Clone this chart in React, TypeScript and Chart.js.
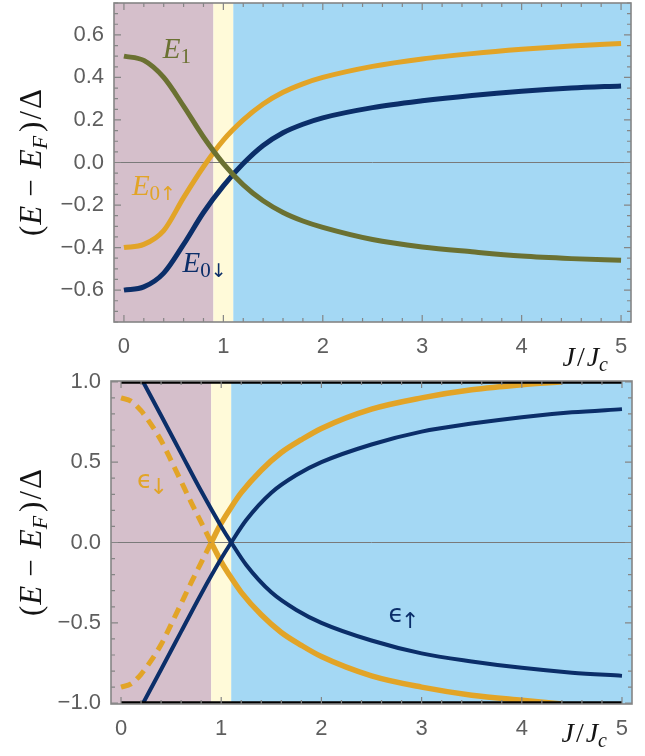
import React, { useEffect, useRef } from "react";
import { Chart, registerables } from "chart.js";

Chart.register(...registerables);

// ---------------- data (top panel) ----------------
const J_TOP = [0, 0.2, 0.4, 0.6, 0.8, 1.0, 1.2, 1.4, 1.6, 1.8, 2.0, 2.5, 3.0, 3.5, 4.0, 4.5, 5.0];
const E1 = [0.5, 0.48, 0.4, 0.265, 0.12, -0.005, -0.105, -0.18, -0.235, -0.275, -0.305, -0.362, -0.397, -0.42, -0.44, -0.452, -0.46];
const E0_UP = [-0.4, -0.385, -0.32, -0.165, -0.02, 0.105, 0.2, 0.275, 0.33, 0.37, 0.4, 0.452, 0.487, 0.512, 0.532, 0.548, 0.56];
const E0_DOWN = [-0.6, -0.585, -0.52, -0.385, -0.235, -0.11, -0.005, 0.08, 0.14, 0.18, 0.21, 0.258, 0.29, 0.315, 0.335, 0.35, 0.36];

// ---------------- data (bottom panel) ----------------
const J_NAVY = [0.22, 0.4, 0.6, 0.8, 1.0, 1.1, 1.25, 1.5, 1.75, 2.0, 2.5, 3.0, 3.5, 4.0, 4.5, 5.0];
const EPS_UP_A = [1.0, 0.79, 0.555, 0.32, 0.1, 0.0, -0.14, -0.31, -0.42, -0.5, -0.61, -0.69, -0.74, -0.78, -0.81, -0.83];
const EPS_UP_B = [-1.0, -0.79, -0.555, -0.32, -0.1, 0.0, 0.14, 0.31, 0.42, 0.5, 0.61, 0.69, 0.74, 0.78, 0.81, 0.83];
const J_GOLD = [0.9, 1.0, 1.1, 1.2, 1.4, 1.6, 1.8, 2.0, 2.5, 3.0, 3.5, 4.0, 4.4];
const EPS_DN_A = [0.0, 0.12, 0.22, 0.31, 0.45, 0.56, 0.64, 0.71, 0.83, 0.9, 0.95, 0.982, 1.0];
const EPS_DN_B = [0.0, -0.12, -0.22, -0.31, -0.45, -0.56, -0.64, -0.71, -0.83, -0.9, -0.95, -0.982, -1.005];
const J_DASH = [0, 0.1, 0.2, 0.3, 0.4, 0.5, 0.6, 0.7, 0.8, 0.9];
const EPS_DASH_A = [0.9, 0.88, 0.82, 0.735, 0.635, 0.51, 0.38, 0.25, 0.125, 0.0];
const EPS_DASH_B = [-0.9, -0.88, -0.82, -0.735, -0.635, -0.51, -0.38, -0.25, -0.125, 0.0];
const J_BOUND = [0, 5];
const BOUND_UP = [1, 1];
const BOUND_DN = [-1, -1];

// ---------------- ticks / regions ----------------
const X_TICKS = [0, 1, 2, 3, 4, 5];
const Y_TICKS_TOP = [-0.6, -0.4, -0.2, 0, 0.2, 0.4, 0.6];
const Y_TICKS_BOT = [-1, -0.5, 0, 0.5, 1];
const REGION_EDGES = [-0.1, 0.9, 1.1, 5.1];

// ---------------- style ----------------
const C_MAUVE = "#d5bfcb";
const C_YELLOW = "#fffad9";
const C_BLUE = "#a4d8f4";
const REGION_COLORS = [C_MAUVE, C_YELLOW, C_BLUE];
const C_OLIVE = "#6b7132";
const C_GOLD = "#e2a427";
const C_NAVY = "#0b2e69";
const C_FRAME = "#858585";
const C_TICKLBL = "#5e5e5e";

const SERIF = (s: number) => `${s}px "Liberation Serif"`;
const SERIF_I = (s: number) => `italic ${s}px "Liberation Serif"`;
const SANS = (s: number) => `${s}px "DejaVu Sans"`;

type Part = { t: string; font: string; dy?: number; gap?: number };

const Y_TITLE: Part[] = [
  { t: "(", font: SERIF(31) },
  { t: "E", font: SERIF_I(31), gap: 1 },
  { t: "\u2212", font: SERIF(31), gap: 9 },
  { t: "E", font: SERIF_I(31), gap: 11 },
  { t: "F", font: SERIF_I(22), dy: 6 },
  { t: ")", font: SERIF(31), gap: 4 },
  { t: "/", font: SERIF(31), gap: 2 },
  { t: "\u0394", font: SERIF(31), gap: 2 },
];
const X_TITLE: Part[] = [
  { t: "J", font: SERIF_I(28) },
  { t: "/", font: SERIF(28), gap: 2 },
  { t: "J", font: SERIF_I(28), gap: 2 },
  { t: "c", font: SERIF_I(20), dy: 5 },
];

type Lbl = { parts: Part[]; jx: number; v: number; color: string };

const TOP_LABELS: Lbl[] = [
  { parts: [{ t: "E", font: SERIF_I(29) }, { t: "1", font: SERIF(21), dy: 5 }], jx: 0.39, v: 0.491, color: C_OLIVE },
  {
    parts: [{ t: "E", font: SERIF_I(29) }, { t: "0", font: SERIF(21), dy: 5 }, { t: "\u2191", font: SANS(19), dy: 5 }],
    jx: 0.08, v: -0.153, color: C_GOLD,
  },
  {
    parts: [{ t: "E", font: SERIF_I(29) }, { t: "0", font: SERIF(21), dy: 5 }, { t: "\u2193", font: SANS(19), dy: 5 }],
    jx: 0.59, v: -0.515, color: C_NAVY,
  },
];
const BOT_LABELS: Lbl[] = [
  { parts: [{ t: "\u03f5", font: SANS(25) }, { t: "\u2193", font: SANS(22), dy: 6, gap: -3 }], jx: 0.16, v: 0.34, color: C_GOLD },
  { parts: [{ t: "\u03f5", font: SANS(25) }, { t: "\u2191", font: SANS(22), dy: 6, gap: -3 }], jx: 2.67, v: -0.495, color: C_NAVY },
];

function pts(xs: number[], ys: number[]) {
  return xs.map((x, i) => ({ x, y: ys[i] }));
}

function widthOf(ctx: CanvasRenderingContext2D, parts: Part[]) {
  let w = 0;
  for (const p of parts) {
    ctx.font = p.font;
    w += (p.gap || 0) + ctx.measureText(p.t).width;
  }
  return w;
}
function drawParts(ctx: CanvasRenderingContext2D, parts: Part[], x: number, y: number) {
  let cx = x;
  ctx.textBaseline = "alphabetic";
  ctx.textAlign = "left";
  for (const p of parts) {
    cx += p.gap || 0;
    ctx.font = p.font;
    ctx.fillText(p.t, cx, y + (p.dy || 0));
    cx += ctx.measureText(p.t).width;
  }
}

type PanelOpts = {
  height: number;
  yMin: number;
  yMax: number;
  yTicks: number[];
  yMinorStep: number;
  yMajorStep: number;
  yAxisWidth: number;
  xAxisHeight: number;
  padTop: number;
  padRight: number;
  labels: Lbl[];
  xTitleRight: number;
  xTitleBase: number;
  datasets: any[];
};

function makePlugin(o: PanelOpts) {
  return {
    id: "decor",
    beforeDatasetsDraw(chart: any) {
      const { ctx, chartArea: a, scales } = chart;
      const x = scales.x;
      const y = scales.y;
      ctx.save();
      for (let i = 0; i < REGION_EDGES.length - 1; i++) {
        const x0 = i === 0 ? a.left : x.getPixelForValue(REGION_EDGES[i]);
        const x1 = i === REGION_EDGES.length - 2 ? a.right : x.getPixelForValue(REGION_EDGES[i + 1]);
        ctx.fillStyle = REGION_COLORS[i];
        ctx.fillRect(x0, a.top, x1 - x0, a.bottom - a.top);
      }
      const y0 = y.getPixelForValue(0);
      ctx.strokeStyle = "#7a7a7a";
      ctx.lineWidth = 1;
      ctx.beginPath();
      ctx.moveTo(a.left, y0);
      ctx.lineTo(a.right, y0);
      ctx.stroke();
      ctx.restore();
    },
    afterDatasetsDraw(chart: any) {
      const { ctx, chartArea: a, scales } = chart;
      const x = scales.x;
      const y = scales.y;
      ctx.save();
      ctx.strokeStyle = C_FRAME;
      ctx.lineWidth = 1.2;
      ctx.beginPath();
      for (let k = 0; k <= 25; k++) {
        const v = k * 0.2;
        const px = x.getPixelForValue(v);
        const len = k % 5 === 0 ? 7 : 4;
        ctx.moveTo(px, a.bottom);
        ctx.lineTo(px, a.bottom - len);
        ctx.moveTo(px, a.top);
        ctx.lineTo(px, a.top + len);
      }
      const n = Math.round((o.yMax - o.yMin) / o.yMinorStep + 1e-9);
      const start = Math.ceil(o.yMin / o.yMinorStep - 1e-9) * o.yMinorStep;
      for (let k = 0; k <= n; k++) {
        const v = start + k * o.yMinorStep;
        if (v > o.yMax + 1e-9) break;
        const r = v / o.yMajorStep;
        const major = Math.abs(r - Math.round(r)) < 1e-6;
        const py = y.getPixelForValue(v);
        const len = major ? 7 : 4;
        ctx.moveTo(a.left, py);
        ctx.lineTo(a.left + len, py);
        ctx.moveTo(a.right, py);
        ctx.lineTo(a.right - len, py);
      }
      ctx.stroke();
      ctx.lineWidth = 1.6;
      ctx.strokeRect(a.left, a.top, a.right - a.left, a.bottom - a.top);
      ctx.restore();
    },
    afterDraw(chart: any) {
      const { ctx, chartArea: a, scales } = chart;
      const x = scales.x;
      const y = scales.y;
      ctx.save();
      // y title (rotated)
      ctx.fillStyle = "#141414";
      const tw = widthOf(ctx, Y_TITLE);
      ctx.translate(41, (a.top + a.bottom) / 2);
      ctx.rotate(-Math.PI / 2);
      drawParts(ctx, Y_TITLE, -tw / 2, 0);
      ctx.setTransform(1, 0, 0, 1, 0, 0);
      // x title
      const xw = widthOf(ctx, X_TITLE);
      drawParts(ctx, X_TITLE, o.xTitleRight - xw, o.xTitleBase);
      // curve labels
      for (const l of o.labels) {
        ctx.fillStyle = l.color;
        drawParts(ctx, l.parts, x.getPixelForValue(l.jx), y.getPixelForValue(l.v));
      }
      ctx.restore();
    },
  };
}

function fmtY(v: number) {
  if (Math.abs(v) < 1e-9) return "0.0";
  return (v < 0 ? "\u2212" : "") + Math.abs(v).toFixed(1);
}

function makeConfig(o: PanelOpts): any {
  const tickFont = { family: "Liberation Sans", size: 22 };
  return {
    type: "line",
    data: { datasets: o.datasets },
    options: {
      animation: false,
      responsive: false,
      events: [],
      layout: { padding: { top: o.padTop, right: o.padRight, left: 0, bottom: 0 } },
      plugins: { legend: { display: false }, tooltip: { enabled: false }, title: { display: false } },
      elements: { point: { radius: 0 } },
      scales: {
        x: {
          type: "linear",
          min: -0.1,
          max: 5.1,
          grid: { display: false, drawTicks: false },
          border: { display: false },
          ticks: {
            font: tickFont,
            color: C_TICKLBL,
            padding: 12,
            maxRotation: 0,
            autoSkip: false,
            callback: (v: number) => String(Math.round(v)),
          },
          afterBuildTicks: (s: any) => {
            s.ticks = X_TICKS.map((value) => ({ value }));
          },
          afterFit: (s: any) => {
            s.height = o.xAxisHeight;
            s.paddingLeft = 0;
            s.paddingRight = 0;
          },
        },
        y: {
          type: "linear",
          min: o.yMin,
          max: o.yMax,
          grid: { display: false, drawTicks: false },
          border: { display: false },
          ticks: {
            font: tickFont,
            color: C_TICKLBL,
            padding: 10,
            autoSkip: false,
            callback: (v: number) => fmtY(v),
          },
          afterBuildTicks: (s: any) => {
            s.ticks = o.yTicks.map((value) => ({ value }));
          },
          afterFit: (s: any) => {
            s.width = o.yAxisWidth;
            s.paddingTop = 0;
            s.paddingBottom = 0;
          },
        },
      },
    },
    plugins: [makePlugin(o)],
  };
}

const line = (data: any[], color: string, width: number, extra: any = {}) => ({
  data,
  borderColor: color,
  borderWidth: width,
  pointRadius: 0,
  fill: false,
  cubicInterpolationMode: "monotone",
  ...extra,
});

const TOP_OPTS: PanelOpts = {
  height: 372,
  yMin: -0.75,
  yMax: 0.75,
  yTicks: Y_TICKS_TOP,
  yMinorStep: 0.05,
  yMajorStep: 0.2,
  yAxisWidth: 114,
  xAxisHeight: 50,
  padTop: 3,
  padRight: 14,
  labels: TOP_LABELS,
  xTitleRight: 608,
  xTitleBase: 366,
  datasets: [
    line(pts(J_TOP, E1), C_OLIVE, 5),
    line(pts(J_TOP, E0_DOWN), C_NAVY, 5),
    line(pts(J_TOP, E0_UP), C_GOLD, 5),
  ],
};

const BOT_OPTS: PanelOpts = {
  height: 384,
  yMin: -1.005,
  yMax: 1.005,
  yTicks: Y_TICKS_BOT,
  yMinorStep: 0.1,
  yMajorStep: 0.5,
  yAxisWidth: 111,
  xAxisHeight: 52,
  padTop: 9,
  padRight: 13,
  labels: BOT_LABELS,
  xTitleRight: 607,
  xTitleBase: 370,
  datasets: [
    line(pts(J_BOUND, BOUND_UP), "#000000", 4, { cubicInterpolationMode: "default", tension: 0 }),
    line(pts(J_BOUND, BOUND_DN), "#000000", 4, { cubicInterpolationMode: "default", tension: 0 }),
    line(pts(J_NAVY, EPS_UP_A), C_NAVY, 4),
    line(pts(J_NAVY, EPS_UP_B), C_NAVY, 4),
    line(pts(J_GOLD, EPS_DN_A), C_GOLD, 5.5),
    line(pts(J_GOLD, EPS_DN_B), C_GOLD, 5.5),
    line(pts(J_DASH, EPS_DASH_A), C_GOLD, 5, { borderDash: [11, 7] }),
    line(pts(J_DASH, EPS_DASH_B), C_GOLD, 5, { borderDash: [11, 7] }),
  ],
};

function Panel({ opts, top }: { opts: PanelOpts; top: number }) {
  const ref = useRef<HTMLCanvasElement>(null);
  useEffect(() => {
    if (!ref.current) return;
    const chart = new Chart(ref.current, makeConfig(opts));
    return () => chart.destroy();
  }, [opts]);
  return (
    <canvas
      ref={ref}
      width={645}
      height={opts.height}
      style={{ position: "absolute", left: 0, top, width: 645, height: opts.height, display: "block" }}
    />
  );
}

export default function App() {
  return (
    <div style={{ position: "absolute", left: 0, top: 0, width: 645, height: 756, background: "#ffffff", overflow: "hidden" }}>
      <Panel opts={TOP_OPTS} top={0} />
      <Panel opts={BOT_OPTS} top={372} />
    </div>
  );
}
